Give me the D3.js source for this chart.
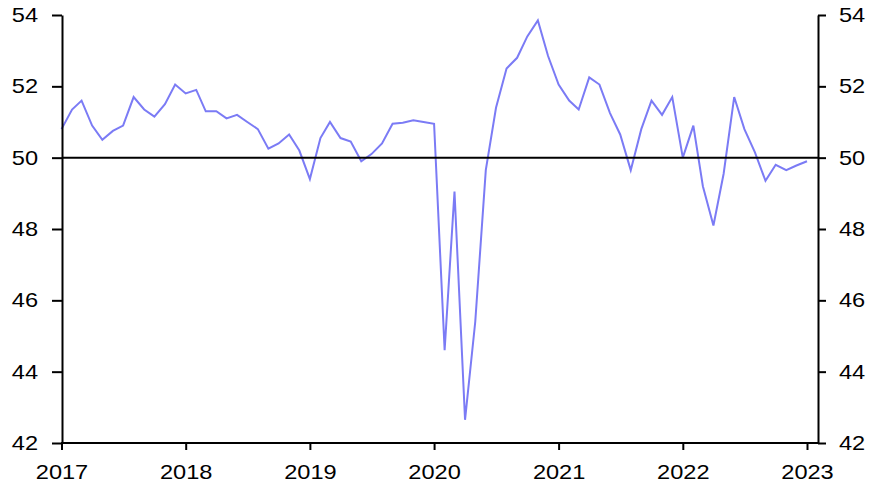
<!DOCTYPE html>
<html>
<head>
<meta charset="utf-8">
<script src="https://cdn.jsdelivr.net/npm/d3@7"></script>
<style>
  html, body { margin: 0; padding: 0; background: #ffffff; }
  svg { display: block; }
  .tick text { font-family: "Liberation Sans", Arial, sans-serif; font-size: 20px; fill: #000;
    transform-box: fill-box; transform-origin: center; transform: scaleX(1.18); }
</style>
</head>
<body>
<svg id="chart" width="882" height="495"></svg>
<script>
// Monthly values, Jan 2017 .. Jan 2023
const startYear = 2017;
const values = [
  50.8, 51.35, 51.6, 50.9, 50.5, 50.75, 50.9, 51.7, 51.35, 51.15, 51.5, 52.05,
  51.8, 51.9, 51.3, 51.3, 51.1, 51.2, 51.0, 50.8, 50.25, 50.4, 50.65, 50.2,
  49.4, 50.55, 51.0, 50.55, 50.45, 49.9, 50.1, 50.4, 50.95, 50.98, 51.05, 51.0,
  50.95, 44.6, 49.05, 42.65, 45.4, 49.65, 51.4, 52.5, 52.8, 53.4, 53.85, 52.85,
  52.05, 51.6, 51.35, 52.25, 52.05, 51.25, 50.65, 49.65, 50.8, 51.6, 51.2, 51.7,
  50.0, 50.9, 49.2, 48.1, 49.55, 51.7, 50.8, 50.15, 49.35, 49.8, 49.65, 49.78,
  49.9
];
const yearTicks = [2017, 2018, 2019, 2020, 2021, 2022, 2023];
const yTicks = [42, 44, 46, 48, 50, 52, 54];
const refLevel = 50;

(function () {
const data = values.map((v, i) => ({ date: new Date(startYear, i, 1), value: v }));

const svg = d3.select("#chart");
const pLeft = 62, pRight = 818, pTop = 15, pBottom = 443;

const x = d3.scaleTime()
  .domain([new Date(2017, 0, 1), new Date(2023, 0, 1)])
  .range([61.5, 807]);
const y = d3.scaleLinear().domain([42, 54]).range([pBottom, pTop]);

// line
const line = d3.line().x(d => x(d.date)).y(d => y(d.value));
svg.append("path").datum(data)
  .attr("fill", "none")
  .attr("stroke", "#7b7bf5")
  .attr("stroke-width", 2)
  .attr("stroke-linejoin", "miter")
  .attr("d", line);

// reference line at 50
svg.append("line")
  .attr("x1", pLeft).attr("x2", pRight)
  .attr("y1", y(refLevel)).attr("y2", y(refLevel))
  .attr("stroke", "#000").attr("stroke-width", 2);

// left axis
const gL = svg.append("g").attr("transform", `translate(${pLeft},0)`)
  .call(d3.axisLeft(y).tickValues(yTicks).tickFormat(d3.format("d"))
    .tickSize(10).tickSizeOuter(0).tickPadding(16));
// right axis
const gR = svg.append("g").attr("transform", `translate(${pRight},0)`)
  .call(d3.axisRight(y).tickValues(yTicks).tickFormat(d3.format("d"))
    .tickSize(8).tickSizeOuter(0).tickPadding(15));
// bottom axis
const gB = svg.append("g").attr("transform", `translate(0,${pBottom})`)
  .call(d3.axisBottom(x).tickValues(yearTicks.map(yy => new Date(yy, 0, 1)))
    .tickFormat(d3.timeFormat("%Y")).tickSize(7).tickSizeOuter(0).tickPadding(15));
gB.select(".domain").remove();
svg.append("line")
  .attr("x1", pLeft - 1).attr("x2", pRight + 1)
  .attr("y1", pBottom).attr("y2", pBottom)
  .attr("stroke", "#000").attr("stroke-width", 2);

[gL, gR, gB].forEach(g => {
  g.selectAll(".domain").attr("stroke", "#000").attr("stroke-width", 2);
  g.selectAll(".tick line").attr("stroke", "#000").attr("stroke-width", 2);
});
})();
</script>
</body>
</html>
